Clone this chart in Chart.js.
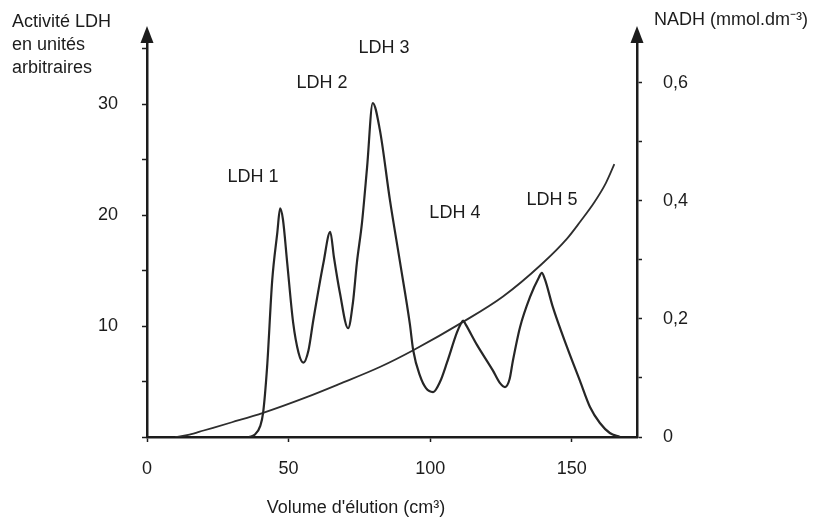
<!DOCTYPE html>
<html lang="fr">
<head>
  <meta charset="UTF-8" />
  <title>Activité LDH et NADH</title>
  <script src="https://cdn.jsdelivr.net/npm/chart.js"></script>
  <style>
    body {
      margin: 0;
      background: #fff;
    }
    .cadre {
      position: relative;
      width: 813px;
      height: 520px;
    }
  </style>
</head>
<body>
  <div class="cadre">
    <canvas id="graphique"></canvas>
  </div>

  <script>
    // Profil d'élution : activité LDH (axe gauche)
    const volumeLDH = [36, 38, 40, 41, 42.4, 44.2, 46, 47, 48, 49.5, 51.6, 53.5, 55.2, 57, 58.7, 62.3, 64.7, 66, 68.1, 71, 72.7, 74.1, 75.9, 77.7, 79.7, 82.2, 85.8, 89.3, 92.8, 94, 96.4, 98.5, 101, 103.5, 105.9, 109.4, 110.8, 111.6, 112.6, 116.5, 122.1, 124.5, 126.4, 128, 129.2, 131.7, 135.2, 138.4, 139.4, 140.5, 143.3, 148.3, 152.8, 156.4, 159.9, 163.4, 167];
    const activiteLDH = [0, 0.2, 1.0, 2.2, 6.3, 14.1, 18.4, 20.6, 19.6, 15.7, 10.3, 7.6, 6.7, 7.8, 10.5, 15.7, 18.5, 16.2, 13.0, 9.8, 12.1, 15.7, 19.3, 24.3, 30.1, 27.7, 21.3, 15.8, 10.2, 7.8, 5.5, 4.4, 4.05, 5.0, 6.7, 9.4, 10.2, 10.5, 10.1, 8.3, 6.0, 4.9, 4.5, 5.2, 6.9, 9.9, 12.6, 14.4, 14.8, 14.2, 11.7, 8.1, 5.1, 2.7, 1.26, 0.36, 0];

    // Concentration en NADH (axe droit)
    const volumeNADH = [10, 15, 20, 30, 41, 56.6, 68, 82.4, 94, 111.6, 125.7, 139.4, 148.3, 153, 158, 162, 165];
    const nadh = [0, 0.004, 0.011, 0.025, 0.041, 0.068, 0.09, 0.119, 0.147, 0.195, 0.238, 0.293, 0.336, 0.365, 0.398, 0.43, 0.462];

    // Étiquettes des pics (coordonnées en unités des axes x / gauche)
    const nomsPics = ["LDH 1", "LDH 2", "LDH 3", "LDH 4", "LDH 5"];
    const picsX = [37.4, 61.8, 83.7, 108.7, 143];
    const picsY = [23.4, 31.9, 35.1, 20.2, 21.4];

    // Graduations
    const graduationsX = [0, 50, 100, 150];
    const etiquettesGauche = [10, 20, 30];
    const etiquettesDroite = [0, 0.2, 0.4, 0.6];

    const encre = "#1c1c1c";
    const police = "'Liberation Sans', Arial, sans-serif";

    const decor = {
      id: 'decor',
      afterDraw(chart) {
        const { ctx, chartArea: a, scales } = chart;
        ctx.save();
        ctx.fillStyle = encre;

        // flèches en haut des axes verticaux
        [a.left, a.right].forEach(x => {
          ctx.beginPath();
          ctx.moveTo(x, a.top - 16);
          ctx.lineTo(x - 6.5, a.top + 1);
          ctx.lineTo(x + 6.5, a.top + 1);
          ctx.closePath();
          ctx.fill();
        });

        ctx.font = "18px " + police;
        ctx.textBaseline = "middle";

        // titres des axes
        ctx.textAlign = "left";
        ctx.fillText("Activité LDH", 12, 22);
        ctx.fillText("en unités", 12, 45);
        ctx.fillText("arbitraires", 12, 68);
        ctx.fillText("NADH (mmol.dm⁻³)", 654, 20);
        ctx.textAlign = "center";
        ctx.fillText("Volume d'élution (cm³)", 356, 508);

        // noms des isoenzymes
        nomsPics.forEach((nom, i) => {
          ctx.fillText(nom, scales.x.getPixelForValue(picsX[i]), scales.yG.getPixelForValue(picsY[i]));
        });
        ctx.restore();
      }
    };

    const axeCommun = {
      border: { display: true, color: encre, width: 2.5 },
      grid: { drawOnChartArea: false, drawTicks: true, tickLength: 5, tickColor: encre, tickWidth: 1.5 },
    };

    new Chart(document.getElementById("graphique"), {
      type: 'line',
      data: {
        datasets: [
          {
            label: "Activité LDH",
            data: volumeLDH.map((v, i) => ({ x: v, y: activiteLDH[i] })),
            yAxisID: 'yG',
            borderColor: "#262626",
            borderWidth: 2.2,
            pointRadius: 0,
            cubicInterpolationMode: 'monotone',
            fill: false
          },
          {
            label: "NADH",
            data: volumeNADH.map((v, i) => ({ x: v, y: nadh[i] })),
            yAxisID: 'yD',
            borderColor: "#2e2e2e",
            borderWidth: 1.8,
            pointRadius: 0,
            cubicInterpolationMode: 'monotone',
            fill: false
          }
        ]
      },
      options: {
        responsive: true,
        maintainAspectRatio: false,
        animation: false,
        layout: { padding: { top: 42, left: 0, right: 0, bottom: 0 } },
        plugins: {
          legend: { display: false },
          tooltip: { enabled: false }
        },
        scales: {
          x: {
            ...axeCommun,
            type: 'linear',
            min: 0,
            max: 173,
            afterFit(s) { s.height = 83; },
            ticks: {
              stepSize: 50,
              includeBounds: false,
              padding: 16,
              color: encre,
              font: { family: police, size: 18 },
              callback: v => graduationsX.includes(v) ? String(v) : ''
            }
          },
          yG: {
            ...axeCommun,
            position: 'left',
            min: 0,
            max: 35.6,
            afterFit(s) { s.width = 147; },
            ticks: {
              stepSize: 5,
              includeBounds: false,
              padding: 24,
              color: encre,
              font: { family: police, size: 18 },
              callback: v => etiquettesGauche.includes(v) ? String(v) : ''
            }
          },
          yD: {
            ...axeCommun,
            position: 'right',
            min: 0,
            max: 0.669,
            afterFit(s) { s.width = 176; },
            ticks: {
              stepSize: 0.1,
              includeBounds: false,
              padding: 21,
              color: encre,
              font: { family: police, size: 18 },
              callback: v => {
                const r = Math.round(v * 10) / 10;
                return etiquettesDroite.includes(r) ? String(r).replace('.', ',') : '';
              }
            }
          }
        }
      },
      plugins: [decor]
    });
  </script>
</body>
</html>
